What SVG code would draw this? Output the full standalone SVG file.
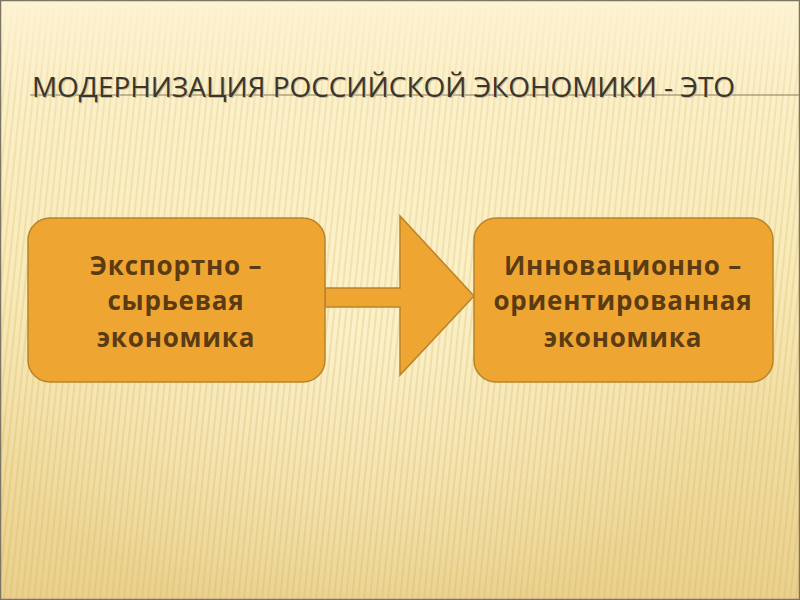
<svg xmlns="http://www.w3.org/2000/svg" width="800" height="600" viewBox="0 0 800 600">
<defs>
<linearGradient id="bg" x1="0" y1="0" x2="0" y2="1">
<stop offset="0" stop-color="#fdf3d2"/>
<stop offset="0.45" stop-color="#f9eab8"/>
<stop offset="1" stop-color="#ead08c"/>
</linearGradient>
<radialGradient id="glow" cx="0.45" cy="0.55" r="0.5">
<stop offset="0" stop-color="#fff6d6" stop-opacity="0.7"/>
<stop offset="1" stop-color="#fff6d6" stop-opacity="0"/>
</radialGradient>
<pattern id="stripes" width="6" height="600" patternUnits="userSpaceOnUse" patternTransform="skewX(-6)">
<rect x="0" y="0" width="2" height="600" fill="#d8bd6e" opacity="0.4"/>
</pattern>
<linearGradient id="fadeMask" x1="0" y1="0" x2="0" y2="1">
<stop offset="0" stop-color="#fff" stop-opacity="0"/>
<stop offset="0.15" stop-color="#fff" stop-opacity="0.6"/>
<stop offset="1" stop-color="#fff" stop-opacity="1"/>
</linearGradient>
<mask id="m"><rect width="800" height="600" fill="url(#fadeMask)"/></mask>
<style>
.box{fill:#efa532;stroke:#b98428;stroke-width:1.5}
.lbl{font-family:"Open Sans","Noto Sans","DejaVu Sans",sans-serif;font-weight:bold;font-size:26px;letter-spacing:0.8px;fill:#5b3b12;text-anchor:middle}
.title{font-family:"Open Sans","Noto Sans","DejaVu Sans",sans-serif;font-size:27px}
</style>
</defs>
<rect width="800" height="600" fill="url(#bg)"/>
<rect width="800" height="600" fill="url(#glow)"/>
<rect width="800" height="600" fill="url(#stripes)" mask="url(#m)"/>
<rect x="0.5" y="0.5" width="799" height="599" fill="none" stroke="#7a7564" stroke-width="1.5"/>
<line x1="30" y1="95" x2="800" y2="95" stroke="#8a7a5a" stroke-width="1.2"/>
<text class="title" x="33" y="98" textLength="703" lengthAdjust="spacingAndGlyphs" fill="#cdb98a">МОДЕРНИЗАЦИЯ РОССИЙСКОЙ ЭКОНОМИКИ - ЭТО</text>
<text class="title" x="32" y="97" textLength="703" lengthAdjust="spacingAndGlyphs" fill="#3a352e">МОДЕРНИЗАЦИЯ РОССИЙСКОЙ ЭКОНОМИКИ - ЭТО</text>
<g id="connectors">
<path class="box" d="M325,288 H400 V216 L474,296 L400,375 V307 H325 Z"/>
</g>
<g id="node-left">
<rect class="box" x="28" y="218" width="297" height="164" rx="22"/>
<text class="lbl" x="176" y="275">Экспортно –</text>
<text class="lbl" x="176" y="310">сырьевая</text>
<text class="lbl" x="176" y="347">экономика</text>
</g>
<g id="node-right">
<rect class="box" x="474" y="218" width="299" height="164" rx="22"/>
<text class="lbl" x="623" y="275">Инновационно –</text>
<text class="lbl" x="623" y="310">ориентированная</text>
<text class="lbl" x="623" y="347">экономика</text>
</g>
</svg>
